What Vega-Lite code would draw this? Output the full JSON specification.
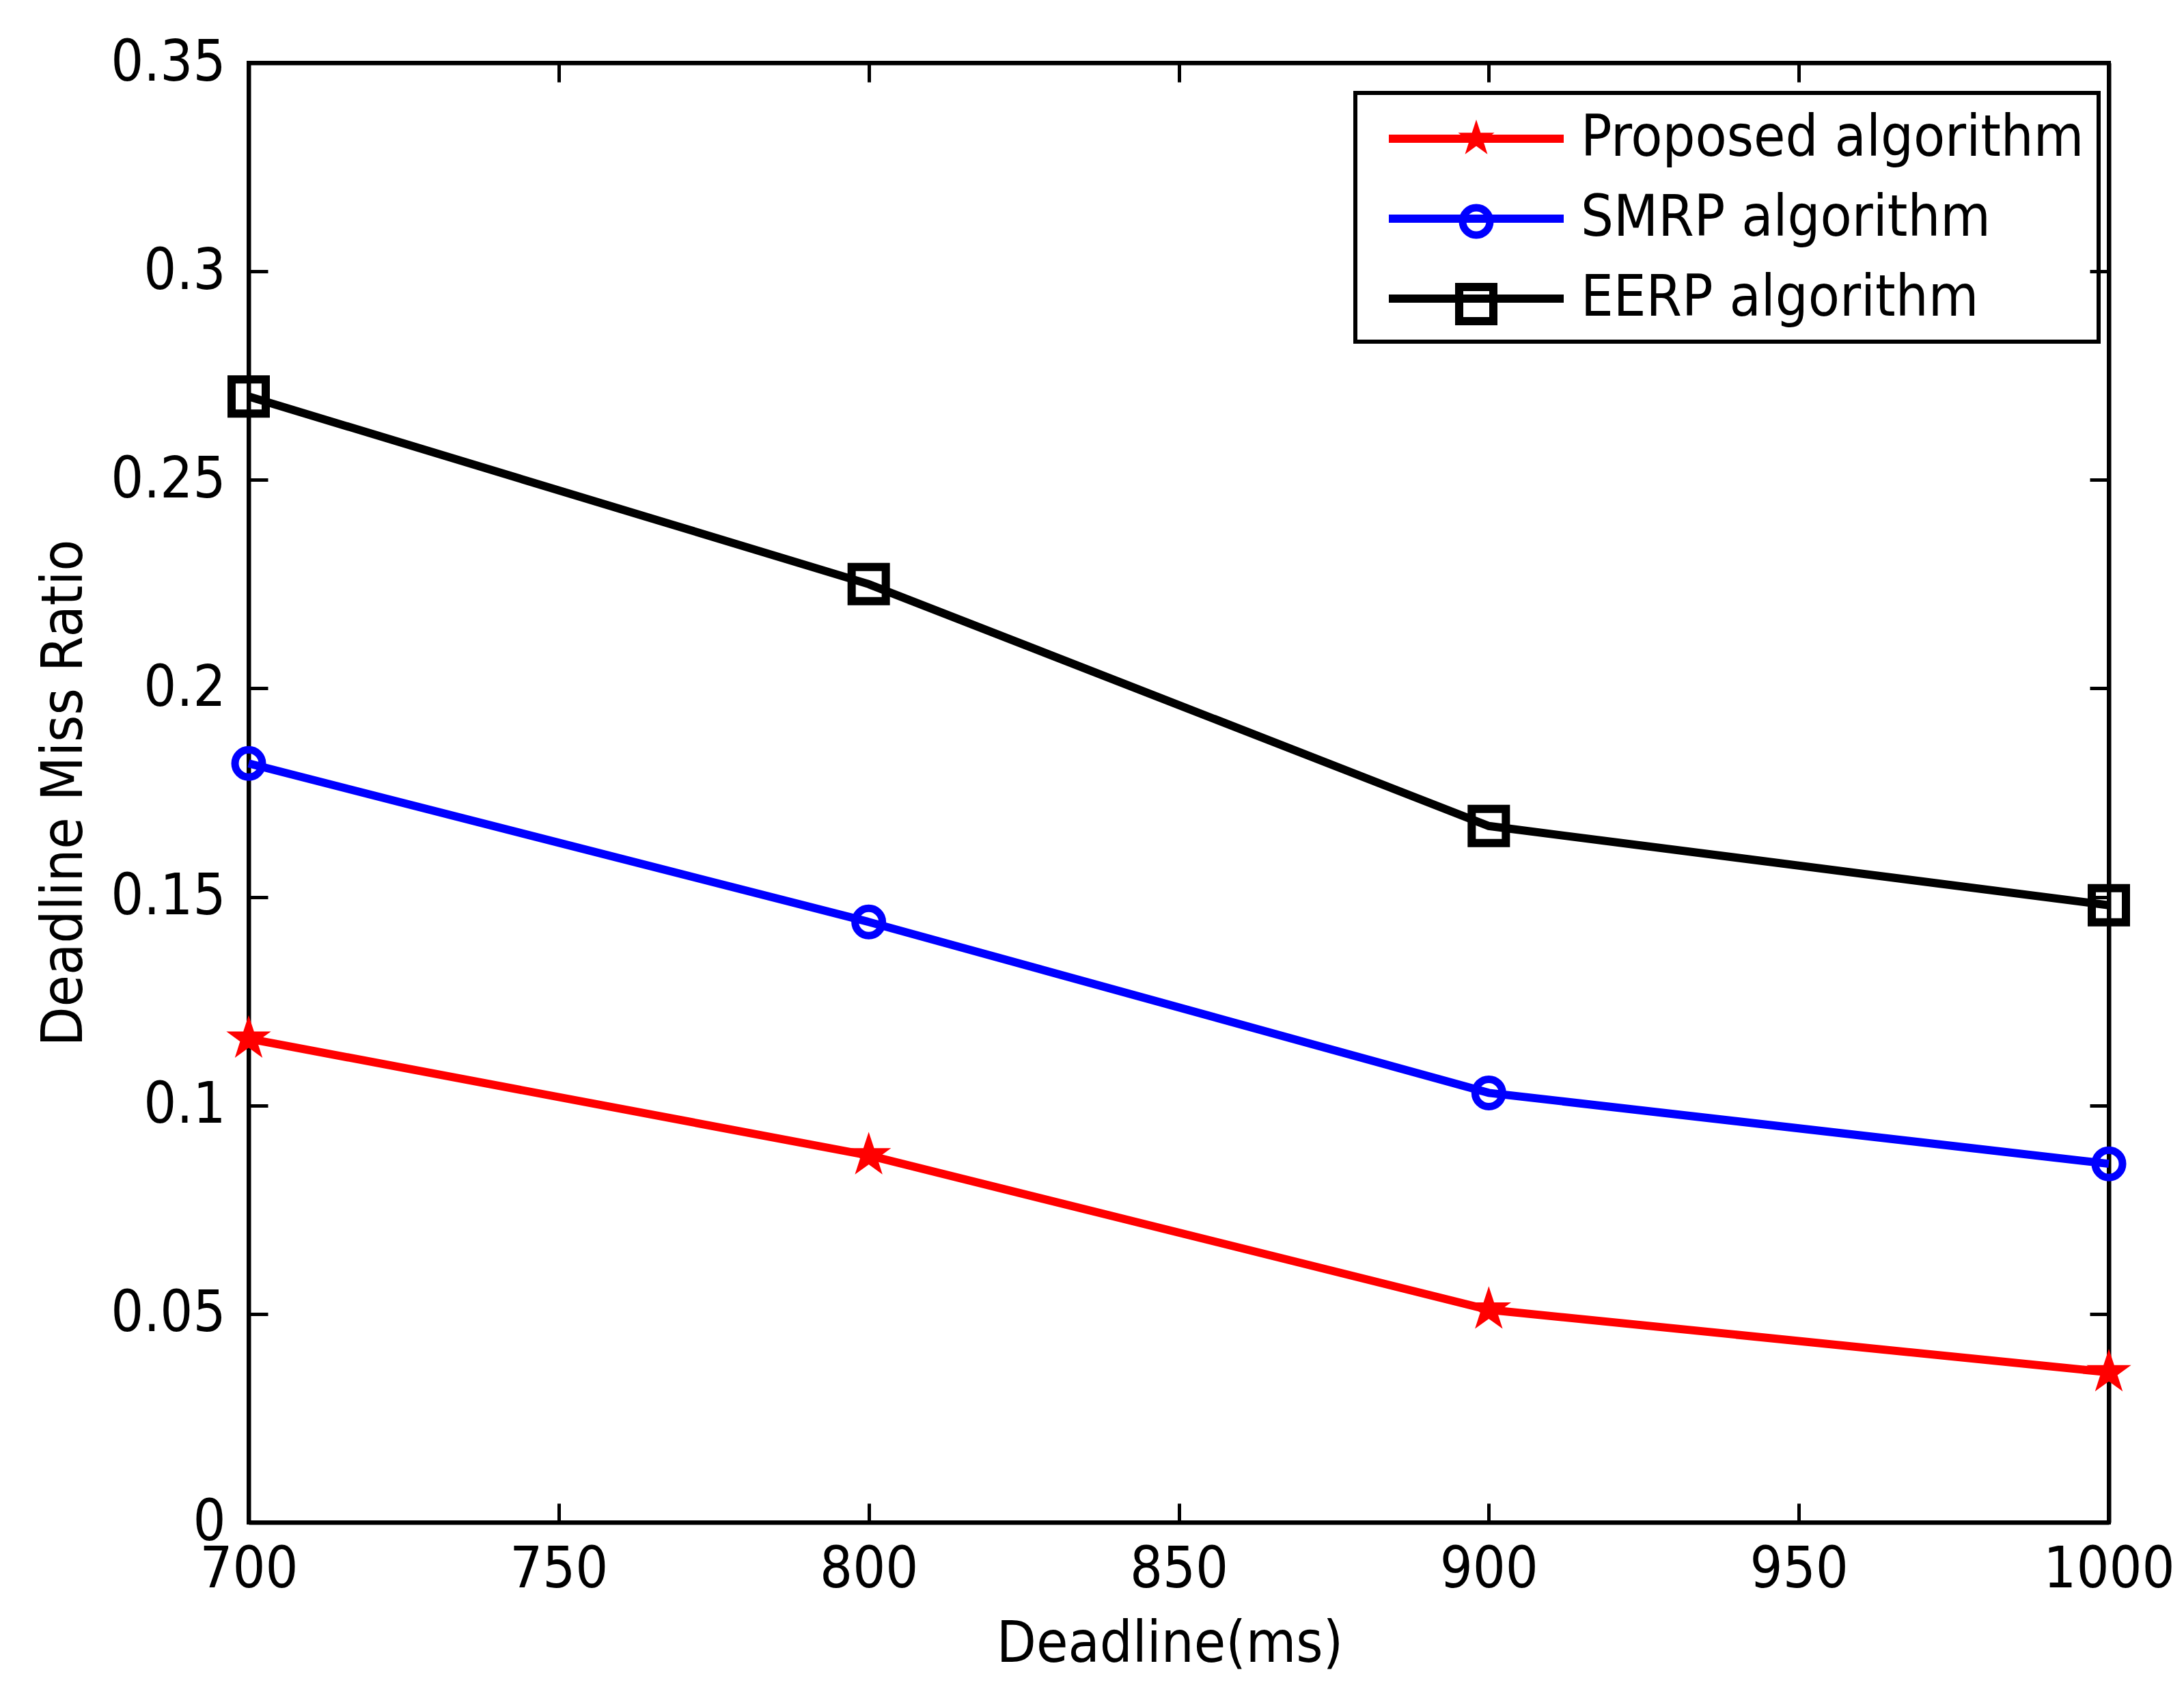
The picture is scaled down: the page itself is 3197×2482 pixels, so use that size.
{
  "$schema": "https://vega.github.io/schema/vega-lite/v6.json",
  "width": 2723,
  "height": 2136,
  "autosize": {"type": "none"},
  "padding": {"left": 364, "top": 92, "right": 110, "bottom": 254},
  "background": "#ffffff",
  "config": {
    "view": {"stroke": "#000000", "strokeWidth": 6},
    "font": "Liberation Sans Narrow, Arial Narrow, DejaVu Sans Condensed, sans-serif",
    "legend": {"strokeWidth": 6},
    "axis": {
      "domainColor": "#000000",
      "domainWidth": 6,
      "tickColor": "#000000",
      "tickWidth": 5,
      "tickSize": -28,
      "grid": false,
      "labelFont": "Liberation Sans Narrow, Arial Narrow, DejaVu Sans Condensed, sans-serif",
      "labelFontSize": 84,
      "labelColor": "#000000",
      "labelLimit": 1000,
      "titleFont": "Liberation Sans Narrow, Arial Narrow, DejaVu Sans Condensed, sans-serif",
      "titleFontSize": 84,
      "titleFontWeight": "normal",
      "titleColor": "#000000",
      "titleLimit": 3000
    }
  },
  "data": {
    "values": [
      {"deadline": 700, "ratio": 0.116, "algorithm": "Proposed algorithm"},
      {"deadline": 800, "ratio": 0.088, "algorithm": "Proposed algorithm"},
      {"deadline": 900, "ratio": 0.051, "algorithm": "Proposed algorithm"},
      {"deadline": 1000, "ratio": 0.036, "algorithm": "Proposed algorithm"},
      {"deadline": 700, "ratio": 0.182, "algorithm": "SMRP algorithm"},
      {"deadline": 800, "ratio": 0.144, "algorithm": "SMRP algorithm"},
      {"deadline": 900, "ratio": 0.103, "algorithm": "SMRP algorithm"},
      {"deadline": 1000, "ratio": 0.086, "algorithm": "SMRP algorithm"},
      {"deadline": 700, "ratio": 0.270, "algorithm": "EERP algorithm"},
      {"deadline": 800, "ratio": 0.225, "algorithm": "EERP algorithm"},
      {"deadline": 900, "ratio": 0.167, "algorithm": "EERP algorithm"},
      {"deadline": 1000, "ratio": 0.148, "algorithm": "EERP algorithm"}
    ]
  },
  "resolve": {
    "axis": {"x": "independent", "y": "independent"},
    "scale": {"shape": "independent"}
  },
  "layer": [
    {
      "mark": {"type": "line", "strokeWidth": 12, "opacity": 1},
      "encoding": {
        "x": {
          "field": "deadline", "type": "quantitative",
          "scale": {"domain": [700, 1000], "nice": false, "zero": false},
          "axis": {
            "orient": "bottom",
            "values": [700, 750, 800, 850, 900, 950, 1000],
            "format": "d",
            "labelPadding": 56,
            "labelFlush": false,
            "labelOverlap": false,
            "title": "Deadline(ms)",
            "titleX": 1348,
            "titleY": 203,
            "titleAlign": "center",
            "titleBaseline": "alphabetic",
            "titleAngle": 0
          }
        },
        "y": {
          "field": "ratio", "type": "quantitative",
          "scale": {"domain": [0, 0.35], "nice": false, "zero": false},
          "axis": {
            "orient": "left",
            "values": [0, 0.05, 0.1, 0.15, 0.2, 0.25, 0.3, 0.35],
            "format": "~g",
            "labelPadding": 62,
            "labelFlush": false,
            "labelOverlap": false,
            "title": "Deadline Miss Ratio",
            "titleX": -245,
            "titleY": 1068,
            "titleAngle": 270,
            "titleAlign": "center",
            "titleBaseline": "alphabetic"
          }
        },
        "color": {
          "field": "algorithm", "type": "nominal",
          "scale": {
            "domain": ["Proposed algorithm", "SMRP algorithm", "EERP algorithm"],
            "range": ["#ff0000", "#0000ff", "#000000"]
          },
          "legend": {
            "title": null,
            "orient": "none",
            "legendX": 1620,
            "legendY": 44,
            "padding": 21,
            "rowPadding": 29,
            "symbolType": "M-3.2,0L3.2,0",
            "symbolSize": 6400,
            "symbolStrokeWidth": 12,
            "symbolOffset": 110,
            "labelOffset": 107,
            "labelFont": "Liberation Sans Narrow, Arial Narrow, DejaVu Sans Condensed, sans-serif",
            "labelFontSize": 84,
            "labelColor": "#000000",
            "labelLimit": 2000,
            "strokeColor": "#000000",
            "fillColor": "transparent"
          }
        }
      }
    },
    {
      "transform": [{"filter": {"field": "algorithm", "equal": "Proposed algorithm"}}],
      "mark": {
        "type": "point", "filled": true, "size": 1600, "strokeWidth": 4, "opacity": 1,
        "fill": "#ff0000", "stroke": "#ff0000"
      },
      "encoding": {
        "x": {
          "field": "deadline", "type": "quantitative",
          "axis": {
            "orient": "top",
            "values": [700, 750, 800, 850, 900, 950, 1000],
            "labels": false,
            "title": null
          }
        },
        "y": {
          "field": "ratio", "type": "quantitative",
          "axis": {
            "orient": "right",
            "values": [0, 0.05, 0.1, 0.15, 0.2, 0.25, 0.3, 0.35],
            "labels": false,
            "title": null
          }
        },
        "shape": {
          "field": "algorithm", "type": "nominal",
          "scale": {
            "domain": ["Proposed algorithm"],
            "range": ["M0,-1.4L0.317,-0.437L1.331,-0.433L0.514,0.167L0.823,1.133L0,0.54L-0.823,1.133L-0.514,0.167L-1.331,-0.433L-0.317,-0.437Z"]
          },
          "legend": {
            "title": null, "orient": "none", "legendX": 1775, "legendY": 89,
            "padding": 0, "symbolSize": 1600, "symbolStrokeWidth": 4, "symbolOffset": 0,
            "symbolFillColor": "#ff0000", "symbolStrokeColor": "#ff0000", "symbolOpacity": 1,
            "labelExpr": "''", "labelFontSize": 1, "strokeColor": null
          }
        }
      }
    },
    {
      "transform": [{"filter": {"field": "algorithm", "equal": "SMRP algorithm"}}],
      "mark": {
        "type": "point", "filled": false, "size": 1600, "strokeWidth": 11, "opacity": 1,
        "fill": "transparent", "stroke": "#0000ff"
      },
      "encoding": {
        "x": {"field": "deadline", "type": "quantitative", "axis": null},
        "y": {"field": "ratio", "type": "quantitative", "axis": null},
        "shape": {
          "field": "algorithm", "type": "nominal",
          "scale": {
            "domain": ["SMRP algorithm"],
            "range": ["M1,0A1,1 0 1 1 -1,0A1,1 0 1 1 1,0Z"]
          },
          "legend": {
            "title": null, "orient": "none", "legendX": 1771.5, "legendY": 206.5,
            "padding": 0, "symbolSize": 1600, "symbolStrokeWidth": 11, "symbolOffset": 0,
            "symbolFillColor": "transparent", "symbolStrokeColor": "#0000ff", "symbolOpacity": 1,
            "labelExpr": "''", "labelFontSize": 1, "strokeColor": null
          }
        }
      }
    },
    {
      "transform": [{"filter": {"field": "algorithm", "equal": "EERP algorithm"}}],
      "mark": {
        "type": "point", "filled": false, "size": 1600, "strokeWidth": 12, "opacity": 1,
        "fill": "transparent", "stroke": "#000000"
      },
      "encoding": {
        "x": {"field": "deadline", "type": "quantitative", "axis": null},
        "y": {"field": "ratio", "type": "quantitative", "axis": null},
        "shape": {
          "field": "algorithm", "type": "nominal",
          "scale": {
            "domain": ["EERP algorithm"],
            "range": ["M-1.25,-1.25L1.25,-1.25L1.25,1.25L-1.25,1.25Z"]
          },
          "legend": {
            "title": null, "orient": "none", "legendX": 1771, "legendY": 327,
            "padding": 0, "symbolSize": 1600, "symbolStrokeWidth": 12, "symbolOffset": 0,
            "symbolFillColor": "transparent", "symbolStrokeColor": "#000000", "symbolOpacity": 1,
            "labelExpr": "''", "labelFontSize": 1, "strokeColor": null
          }
        }
      }
    }
  ]
}
